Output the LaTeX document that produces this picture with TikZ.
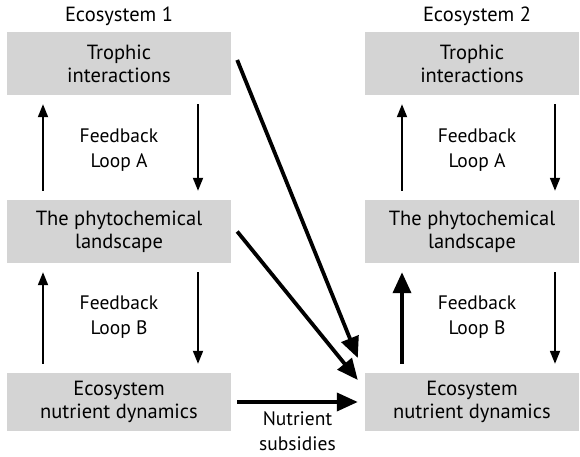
\documentclass[tikz,border=0pt]{standalone}
\usepackage{fontspec}
\setmainfont{PT Sans}
\usetikzlibrary{arrows.meta}
\begin{document}
\begin{tikzpicture}[x=1pt,y=-1pt]

    \tikzset{
      box/.style={
        fill=black!17,
        inner sep=0pt,
        minimum width=224pt,
        minimum height=63pt,
        align=center,
        font=\fontsize{20.5}{23}\selectfont,
      },
      label/.style={align=center, font=\fontsize{19.5}{25}\selectfont},
      thin/.style={line width=1.8pt, shorten <=9pt, shorten >=9pt,
        -{Triangle[length=13pt,width=10pt]}},
      thick/.style={line width=3.8pt,
        -{Triangle[length=21pt,width=18pt]}},
    }
    \useasboundingbox (0,0) rectangle (580,457);

    % ecosystem 1
    \node[font=\fontsize{20.5}{23}\selectfont] (title1) at (119,16) {Ecosystem 1};
    \node[box] (troph1) at (119,63.5) {Trophic\\interactions};
    \node[box] (phyto1) at (119,231.5) {The phytochemical\\landscape};
    \node[box, minimum height=58pt] (nutr1) at (119,402) {Ecosystem\\nutrient dynamics};
    \node[label] (loopA1) at (119,150) {Feedback\\Loop A};
    \node[label] (loopB1) at (119,317) {Feedback\\Loop B};
    \draw[thin] ([xshift=-76pt]phyto1.north) -- ([xshift=-76pt]troph1.south);
    \draw[thin] ([xshift=79pt]troph1.south) -- ([xshift=79pt]phyto1.north);
    \draw[thin] ([xshift=-76pt]nutr1.north) -- ([xshift=-76pt]phyto1.south);
    \draw[thin] ([xshift=79pt]phyto1.south) -- ([xshift=79pt]nutr1.north);

    % ecosystem 2
    \node[font=\fontsize{20.5}{23}\selectfont] (title2) at (477,16) {Ecosystem 2};
    \node[box, minimum width=214pt] (troph2) at (472,63.5) {Trophic\\interactions};
    \node[box, minimum width=214pt] (phyto2) at (472,231.5) {The phytochemical\\landscape};
    \node[box, minimum width=214pt, minimum height=58pt] (nutr2) at (472,402) {Ecosystem\\nutrient dynamics};
    \node[label] (loopA2) at (477,150) {Feedback\\Loop A};
    \node[label] (loopB2) at (477,317) {Feedback\\Loop B};
    \draw[thin] ([xshift=-70pt]phyto2.north) -- ([xshift=-70pt]troph2.south);
    \draw[thin] ([xshift=83pt]troph2.south) -- ([xshift=83pt]phyto2.north);
    \draw[thick, shorten <=9pt, shorten >=9pt] ([xshift=-70pt]nutr2.north) -- ([xshift=-70pt]phyto2.south);
    \draw[thin] ([xshift=83pt]phyto2.south) -- ([xshift=83pt]nutr2.north);

    % links between the two
    \draw[thick] ([xshift=6pt,yshift=3.5pt]troph1.east) -- ([xshift=-7pt,yshift=44pt]nutr2.west);
    \draw[thick] ([xshift=6pt]phyto1.east) -- ([xshift=-7pt,yshift=22pt]nutr2.west);
    \draw[thick] ([xshift=6pt]nutr1.east) -- ([xshift=-7pt]nutr2.west)
      node[midway, below=4pt, align=center, font=\fontsize{19.5}{25}\selectfont] (subs) {Nutrient\\subsidies};

\end{tikzpicture}
\end{document}
